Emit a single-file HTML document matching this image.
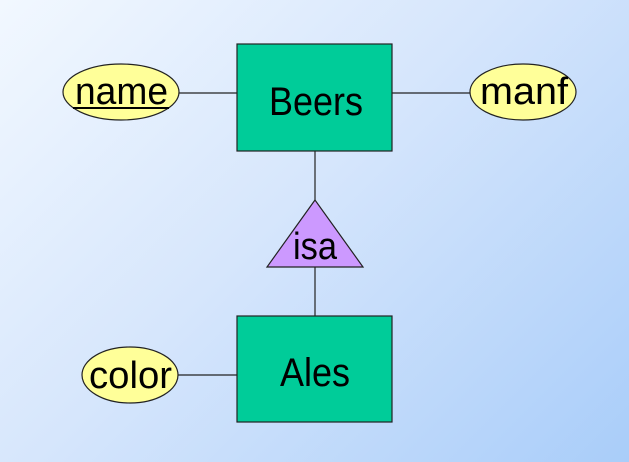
<!DOCTYPE html>
<html><head><style>
html,body{margin:0;padding:0;}
body{width:629px;height:462px;overflow:hidden;background:linear-gradient(135deg,#f2f8ff 0%,#d6e6fc 45%,#a9cdf9 100%);}
svg{position:absolute;left:0;top:0;}
text{font-family:"Liberation Sans",sans-serif;fill:#000;}
</style></head><body>
<svg width="629" height="462" viewBox="0 0 629 462">
<g stroke="#222" stroke-width="1.2">
<line x1="179" y1="93" x2="237" y2="93"/>
<line x1="392" y1="93" x2="470" y2="93"/>
<line x1="315" y1="151" x2="315" y2="200"/>
<line x1="315" y1="267" x2="315" y2="316"/>
<line x1="178" y1="375" x2="237" y2="375"/>
<rect x="237" y="44" width="155" height="107" fill="#00cc99"/>
<rect x="237" y="316" width="155" height="106" fill="#00cc99"/>
<polygon points="315,200 267,267 363,267" fill="#cc99ff"/>
<ellipse cx="121" cy="92" rx="58" ry="28" fill="#ffff99"/>
<ellipse cx="523" cy="92" rx="53" ry="28" fill="#ffff99"/>
<ellipse cx="130" cy="375" rx="48" ry="28" fill="#ffff99"/>
</g>
<text x="269" y="115" font-size="40" textLength="94" lengthAdjust="spacingAndGlyphs">Beers</text>
<text x="280" y="386" font-size="40" textLength="70" lengthAdjust="spacingAndGlyphs">Ales</text>
<text x="293" y="259" font-size="38" textLength="44" lengthAdjust="spacingAndGlyphs">isa</text>
<text x="75" y="104" font-size="38" textLength="93" lengthAdjust="spacingAndGlyphs">name</text>
<line x1="73" y1="108" x2="169" y2="108" stroke="#000" stroke-width="2"/>
<text x="480" y="104" font-size="38" textLength="88" lengthAdjust="spacingAndGlyphs">manf</text>
<text x="89" y="388" font-size="38" textLength="83" lengthAdjust="spacingAndGlyphs">color</text>
</svg>
</body></html>
